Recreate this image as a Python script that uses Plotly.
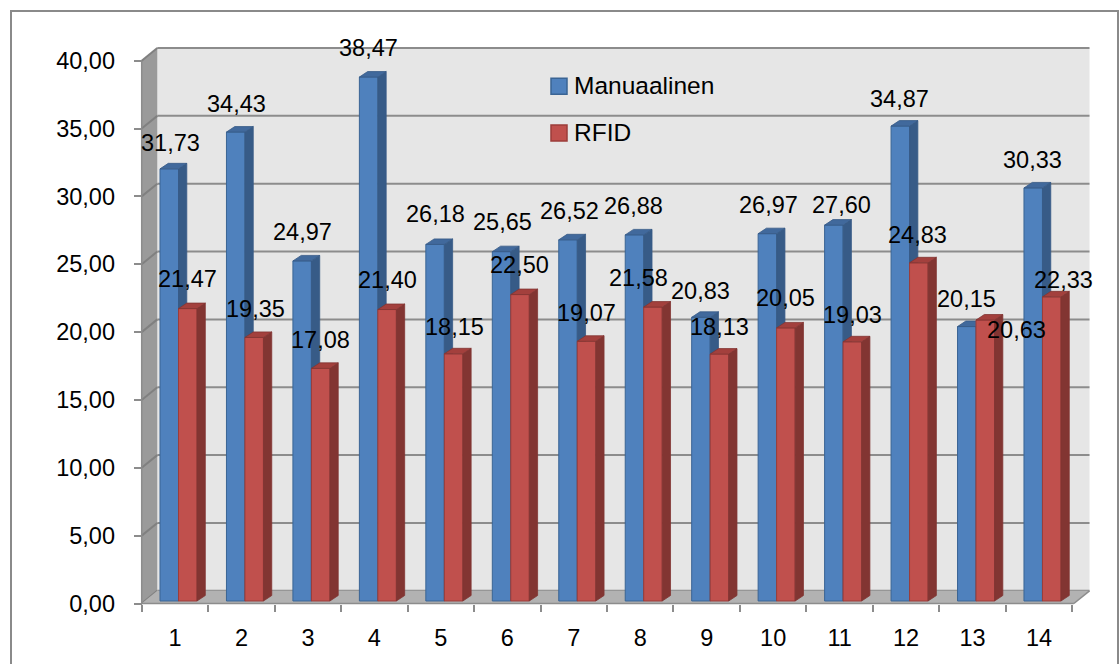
import plotly.graph_objects as go

# ---- data -------------------------------------------------------------
categories = ["1", "2", "3", "4", "5", "6", "7", "8", "9", "10", "11", "12", "13", "14"]
manuaalinen = [31.73, 34.43, 24.97, 38.47, 26.18, 25.65, 26.52, 26.88, 20.83, 26.97, 27.60, 34.87, 20.15, 30.33]
rfid = [21.47, 19.35, 17.08, 21.40, 18.15, 22.50, 19.07, 21.58, 18.13, 20.05, 19.03, 24.83, 20.63, 22.33]
y_ticks = [0, 5, 10, 15, 20, 25, 30, 35, 40]

# label nudges in pixels (x: right, y: above bar top)
man_lbl_dx = [1, 0.5, 0, 0, 0.5, 0.5, 1, -0.5, 0, 1, 8, -1, -0.5, -0.5]
man_lbl_dy = [26, 28.4, 28.7, 29.4, 30, 29.7, 28.7, 29, 26.7, 28.3, 20, 26.7, 28, 28.3]
rfid_lbl_dx = [0, 1.5, 0, 0, 1, -0.5, 0, -14, 0, -0.5, 0, -1, 31, 11.5]
rfid_lbl_dy = [29.3, 28.3, 28.3, 30, 27, 29.7, 28.7, 29, 27, 29.7, 26.7, 28.3, -10, 17]

# ---- geometry ---------------------------------------------------------
W, H = 1120, 664
CAT_PX = 66.46          # pixels per category
CAT1_PX = 175.0         # pixel of category 1 label
BAR_ZERO_PX = 601.0     # bar base line
BAR_PX_UNIT = 13.62     # pixels per value unit (bar plane)
FRONT_ZERO_PX = 603.5   # front axis zero
FRONT_PX_UNIT = 13.57
WALL_DX, WALL_DY = 15.6, 12.7   # depth of the box
BAR_DX, BAR_DY = 8.3, 5.5       # depth of each column

x_pos = list(range(1, len(categories) + 1))
x_range = [1 - CAT1_PX / CAT_PX, 1 + (W - CAT1_PX) / CAT_PX]
y_range = [-(H - BAR_ZERO_PX) / BAR_PX_UNIT, BAR_ZERO_PX / BAR_PX_UNIT]
y3_range = [-(H - FRONT_ZERO_PX) / FRONT_PX_UNIT, FRONT_ZERO_PX / FRONT_PX_UNIT]

bar_w = 18.5 / CAT_PX
shift = 3.5 / CAT_PX
man_off = shift - bar_w
rfid_off = shift
dx = BAR_DX / CAT_PX
dy = BAR_DY / BAR_PX_UNIT

FONT = "Liberation Sans, Arial, sans-serif"
BLUE, BLUE_SIDE, BLUE_TOP, BLUE_EDGE = "#4f81bd", "#375b87", "#41699c", "#3a6494"
RED, RED_SIDE, RED_TOP, RED_EDGE = "#c0504d", "#823532", "#a3403d", "#9c3d3a"
GRID = "#8c8c8c"


def px(x):
    return x / W


def py(y):
    return 1 - y / H


def faces(values, offset):
    """Side and top faces of every column as polygon lists."""
    sx, sy, tx, ty = [], [], [], []
    for xp, v in zip(x_pos, values):
        x0 = xp + offset
        x1 = x0 + bar_w
        sx += [x1, x1, x1 + dx, x1 + dx, x1, None]
        sy += [0, v, v + dy, dy, 0, None]
        tx += [x0, x1, x1 + dx, x0 + dx, x0, None]
        ty += [v, v, v + dy, v + dy, v, None]
    return sx, sy, tx, ty


fig = go.Figure()

# Manuaalinen columns (base subplot)
fig.add_trace(go.Bar(
    x=x_pos, y=manuaalinen, width=bar_w, offset=man_off, name="Manuaalinen",
    marker=dict(color=BLUE, line=dict(color=BLUE_EDGE, width=1)),
    xaxis="x", yaxis="y", showlegend=False, hoverinfo="skip"))
sx, sy, tx, ty = faces(manuaalinen, man_off)
fig.add_trace(go.Scatter(x=sx, y=sy, fill="toself", fillcolor=BLUE_SIDE, mode="lines",
                         line=dict(color=BLUE_SIDE, width=0.8), xaxis="x", yaxis="y",
                         showlegend=False, hoverinfo="skip"))
fig.add_trace(go.Scatter(x=tx, y=ty, fill="toself", fillcolor=BLUE_TOP, mode="lines",
                         line=dict(color=BLUE_SIDE, width=0.8), xaxis="x", yaxis="y",
                         showlegend=False, hoverinfo="skip"))

# RFID columns (overlaid subplot, drawn in front)
fig.add_trace(go.Bar(
    x=x_pos, y=rfid, width=bar_w, offset=rfid_off, name="RFID",
    marker=dict(color=RED, line=dict(color=RED_EDGE, width=1)),
    xaxis="x2", yaxis="y2", showlegend=False, hoverinfo="skip"))
sx, sy, tx, ty = faces(rfid, rfid_off)
fig.add_trace(go.Scatter(x=sx, y=sy, fill="toself", fillcolor=RED_SIDE, mode="lines",
                         line=dict(color=RED_SIDE, width=0.8), xaxis="x2", yaxis="y2",
                         showlegend=False, hoverinfo="skip"))
fig.add_trace(go.Scatter(x=tx, y=ty, fill="toself", fillcolor=RED_TOP, mode="lines",
                         line=dict(color=RED_SIDE, width=0.8), xaxis="x2", yaxis="y2",
                         showlegend=False, hoverinfo="skip"))

# carrier for the front value axis
fig.add_trace(go.Scatter(x=[1], y=[0], mode="markers", marker=dict(opacity=0),
                         xaxis="x", yaxis="y3", showlegend=False, hoverinfo="skip"))

# ---- box: walls, floor, gridlines -------------------------------------
shapes = []
front_l, back_l = 141.7, 141.7 + WALL_DX
back_r = 1089.5
front_r = back_r - WALL_DX
front_top = FRONT_ZERO_PX - 40 * FRONT_PX_UNIT
front_bot = FRONT_ZERO_PX
back_top, back_bot = front_top - WALL_DY, front_bot - WALL_DY

shapes.append(dict(type="rect", xref="paper", yref="paper", layer="below",
                   x0=px(11), x1=px(1118), y0=py(720), y1=py(11),
                   line=dict(color="#8a8a8a", width=2), fillcolor="white"))
shapes.append(dict(type="rect", xref="paper", yref="paper", layer="below",
                   x0=px(back_l), x1=px(back_r), y0=py(back_bot), y1=py(back_top),
                   line=dict(width=0), fillcolor="#e6e6e6"))


def poly(pts):
    return "M " + " L ".join(f"{px(a):.5f},{py(b):.5f}" for a, b in pts) + " Z"


shapes.append(dict(type="path", xref="paper", yref="paper", layer="below",
                   path=poly([(front_l, front_top), (back_l, back_top),
                              (back_l, back_bot), (front_l, front_bot)]),
                   line=dict(width=0), fillcolor="#9a9a9a"))

for v in y_ticks:
    # back wall gridline
    shapes.append(dict(type="line", xref="paper", yref="y3", ysizemode="pixel", yanchor=v,
                       x0=px(back_l), x1=px(back_r), y0=WALL_DY, y1=WALL_DY,
                       layer="below", line=dict(color=GRID, width=2)))
    # side wall gridline
    shapes.append(dict(type="line", xref="paper", yref="y3", ysizemode="pixel", yanchor=v,
                       x0=px(front_l), x1=px(back_l), y0=0, y1=WALL_DY,
                       layer="below", line=dict(color="#808080", width=2)))

shapes.append(dict(type="path", xref="paper", yref="paper", layer="below",
                   path=poly([(front_l, front_bot), (back_l, back_bot),
                              (back_r, back_bot), (front_r, front_bot)]),
                   line=dict(width=0), fillcolor="#b2b2b2"))
shapes.append(dict(type="line", xref="paper", yref="paper", layer="below",
                   x0=px(front_l), x1=px(front_r), y0=py(front_bot), y1=py(front_bot),
                   line=dict(color=GRID, width=1.5)))
shapes.append(dict(type="line", xref="paper", yref="paper", layer="below",
                   x0=px(front_r), x1=px(back_r), y0=py(front_bot), y1=py(back_bot),
                   line=dict(color=GRID, width=1.5)))
shapes.append(dict(type="line", xref="paper", yref="paper", layer="below",
                   x0=px(front_l), x1=px(front_l), y0=py(front_bot), y1=py(front_top),
                   line=dict(color=GRID, width=1.5)))

# legend swatches
for (top, col, edge) in [(78.3, BLUE, BLUE_EDGE), (125.0, RED, RED_EDGE)]:
    shapes.append(dict(type="rect", xref="paper", yref="paper", layer="above",
                       x0=px(551), x1=px(567), y0=py(top + 16), y1=py(top),
                       fillcolor=col, line=dict(color=edge, width=1.5)))

# ---- annotations ------------------------------------------------------
ann = []
bar_center = bar_w / 2
for xp, v, ddx, ddy in zip(x_pos, manuaalinen, man_lbl_dx, man_lbl_dy):
    ann.append(dict(x=xp + man_off + bar_center, y=v, xref="x", yref="y",
                    text=f"{v:.2f}".replace(".", ","), showarrow=False,
                    xanchor="center", yanchor="middle", xshift=ddx, yshift=ddy,
                    font=dict(family=FONT, size=23.5, color="black")))
for xp, v, ddx, ddy in zip(x_pos, rfid, rfid_lbl_dx, rfid_lbl_dy):
    ann.append(dict(x=xp + rfid_off + bar_center, y=v, xref="x", yref="y",
                    text=f"{v:.2f}".replace(".", ","), showarrow=False,
                    xanchor="center", yanchor="middle", xshift=ddx, yshift=ddy,
                    font=dict(family=FONT, size=23.5, color="black")))
for yc, name in [(85.5, "Manuaalinen"), (132.5, "RFID")]:
    ann.append(dict(x=px(572), y=py(yc), xref="paper", yref="paper", text=name,
                    showarrow=False, xanchor="left", yanchor="middle",
                    font=dict(family=FONT, size=24.5, color="black")))

hidden = dict(visible=False, showgrid=False, zeroline=False, fixedrange=True)

fig.update_layout(
    width=W, height=H, autosize=False,
    margin=dict(l=0, r=0, t=0, b=0, pad=0),
    paper_bgcolor="white", plot_bgcolor="white",
    separators=", ",
    barmode="overlay", hovermode=False,
    font=dict(family=FONT, size=23.5, color="black"),
    xaxis=dict(domain=[0, 1], range=x_range, anchor="free", position=py(FRONT_ZERO_PX),
               tickmode="array", tickvals=x_pos, ticktext=categories, ticks="",
               ticklabelstandoff=18, showgrid=False, zeroline=False, showline=False,
               minor=dict(tickmode="array", tickvals=[p - 0.5 for p in x_pos] + [x_pos[-1] + 0.5],
                          ticks="outside", ticklen=7, tickwidth=1.5, tickcolor=GRID, showgrid=False),
               tickfont=dict(family=FONT, size=23.5, color="black"), fixedrange=True),
    yaxis=dict(domain=[0, 1], range=y_range, **hidden),
    xaxis2=dict(overlaying="x", range=x_range, **hidden),
    yaxis2=dict(overlaying="y", range=y_range, **hidden),
    yaxis3=dict(overlaying="y", anchor="free", position=px(front_l), side="left",
                range=y3_range, tickmode="array", tickvals=y_ticks, tickformat=".2f",
                ticks="outside", ticklen=8, tickwidth=1.5, tickcolor=GRID,
                ticklabelstandoff=14, showgrid=False, zeroline=False, showline=False,
                tickfont=dict(family=FONT, size=23.5, color="black"), fixedrange=True),
    shapes=shapes,
    annotations=ann,
)

fig.write_html("out.html")
